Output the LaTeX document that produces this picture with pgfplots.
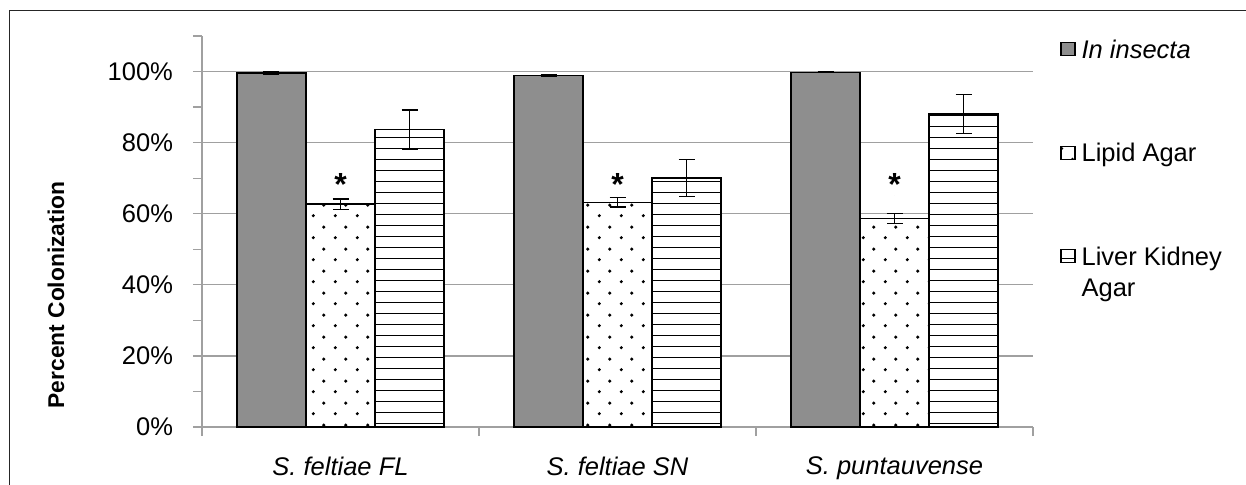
\documentclass[border=0pt]{standalone}
\usepackage{fontspec}
\setmainfont{Liberation Sans}
\usepackage{pgfplots}
\pgfplotsset{compat=1.18}
\usetikzlibrary{patterns}
\definecolor{axgray}{RGB}{160,160,160}
\definecolor{bargray}{RGB}{142,142,142}
\pgfdeclarepatternformonly{hlinesA}{\pgfpoint{-1pt}{0pt}}{\pgfpoint{11pt}{5.5pt}}{\pgfpoint{10pt}{5.5pt}}{%
  \pgfsetlinewidth{0.9pt}\pgfpathmoveto{\pgfpoint{-1pt}{2.75pt}}\pgfpathlineto{\pgfpoint{11pt}{2.75pt}}\pgfusepath{stroke}}
\pgfdeclarepatternformonly{sdots}{\pgfpointorigin}{\pgfpoint{11pt}{11pt}}{\pgfpoint{11pt}{11pt}}{%
  \pgfpathcircle{\pgfpoint{2.75pt}{2.75pt}}{0.9pt}\pgfpathcircle{\pgfpoint{8.25pt}{8.25pt}}{0.9pt}\pgfusepath{fill}}
\pgfplotsset{
  normlegend/.style={legend image code/.code={\draw[##1, line width=0.6pt] (0pt,-2.5pt) rectangle (7pt,4pt);}},
}
\begin{document}
\begin{tikzpicture}
\useasboundingbox (-101pt,-28.5pt) rectangle (522pt,213.5pt);
\draw[line width=0.75pt, black!85] (-96.25pt,-40pt) -- (-96.25pt,208.25pt) -- (540pt,208.25pt);
\begin{axis}[
  scale only axis, width=415.5pt, height=195.5pt,
  xmin=-0.5, xmax=2.5, ymin=0, ymax=110,
  ybar=0pt, bar width=34.5pt,
  axis lines*=left,
  axis line style={axgray, line width=0.6pt},
  xtick={0,1,2},
  xticklabels={\textit{S. feltiae FL}, \textit{S. feltiae SN}, \textit{S. puntauvense}},
  minor xtick={-0.5,0.5,1.5,2.5},
  ytick={0,20,...,100}, minor ytick={10,30,...,110},
  tick align=outside, major tick length=4.5pt, minor tick length=4.5pt,
  tick style={axgray, line width=0.6pt},
  every major x tick/.append style={draw=none},
  ymajorgrids, grid style={axgray, line width=0.6pt},
  yticklabel={\pgfmathprintnumber{\tick}\%},
  /pgf/number format/assume math mode=true,
  tick label style={font=\fontsize{12.75}{15}\selectfont},
  yticklabel style={anchor=east, xshift=-6.5pt},
  xticklabel style={anchor=north, yshift=-7pt},
  ylabel={Percent Colonization},
  ylabel style={at={(axis description cs:-0.1757,0.3376)}, anchor=center, font=\fontsize{11.4}{13}\selectfont\bfseries},
  legend style={draw=none, fill=none, at={(1.0325,0.9992)}, anchor=north west,
    inner sep=0pt, row sep=37.7pt, column sep=3pt,
    font=\fontsize{12.75}{15.5}\selectfont,
    nodes={inner sep=0pt, text height=10.85pt, text depth=3.2pt}},
  legend cell align=left,
  normlegend,
]
\addplot[fill=bargray, draw=black, line width=0.7pt,
  error bars/.cd, y dir=both, y explicit,
  error bar style={black, line width=0.7pt},
  error mark options={black, line width=0.7pt, mark size=4pt, rotate=90}]
  coordinates {(0,99.6) +- (0,0.3) (1,98.9) +- (0,0.2) (2,99.8) +- (0,0.15)};
\addlegendentry{\textit{In insecta}}
\addplot[fill=white, draw=black, line width=0.7pt,
  postaction={pattern=sdots},
  error bars/.cd, y dir=both, y explicit,
  error bar style={black, line width=0.7pt},
  error mark options={black, line width=0.7pt, mark size=4pt, rotate=90}]
  coordinates {(0,62.7) +- (0,1.45) (1,63.2) +- (0,1.3) (2,58.6) +- (0,1.4)};
\addlegendentry{Lipid Agar}
\addplot[fill=white, draw=black, line width=0.7pt,
  postaction={pattern=hlinesA},
  error bars/.cd, y dir=both, y explicit,
  error bar style={black, line width=0.7pt},
  error mark options={black, line width=0.7pt, mark size=4pt, rotate=90}]
  coordinates {(0,83.7) +- (0,5.5) (1,70.0) +- (0,5.2) (2,88.1) +- (0,5.5)};
\addlegendentry{\begin{tabular}[t]{@{}l@{}}Liver Kidney\\Agar\end{tabular}}
\end{axis}
\begin{axis}[
  scale only axis, width=415.5pt, height=195.5pt,
  xmin=-0.5, xmax=2.5, ymin=0, ymax=110,
  hide axis, clip=false]
\addplot[only marks, mark=*, mark size=0pt, mark options={draw=none, fill=none},
  nodes near coords={*},
  every node near coord/.style={anchor=base, inner sep=0pt, font=\fontsize{16}{16}\selectfont\bfseries}]
  coordinates {(0,65.0) (1,65.0) (2,65.0)};
\end{axis}
\end{tikzpicture}
\end{document}
